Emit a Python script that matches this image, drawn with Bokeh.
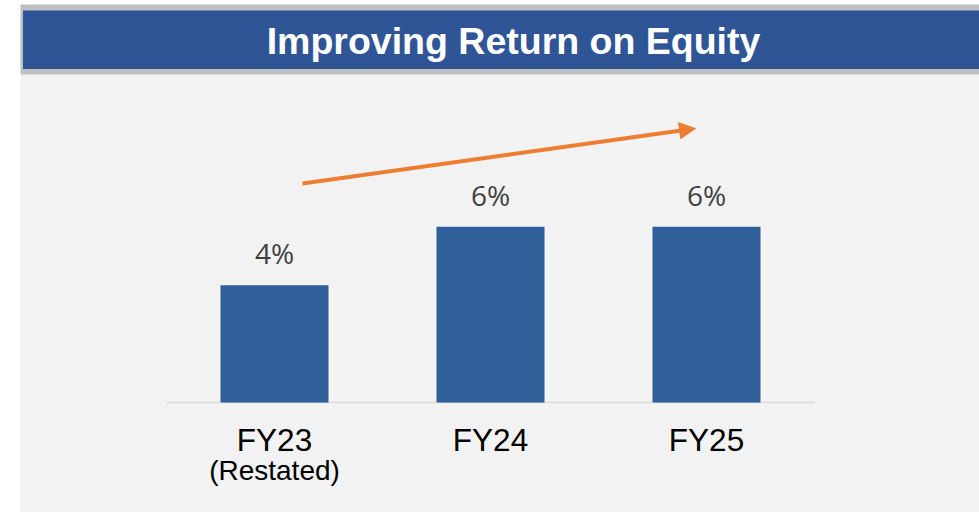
from bokeh.plotting import figure
from bokeh.models import Range1d, BoxAnnotation, Label, Arrow, NormalHead, ColumnDataSource
from bokeh.embed import file_html
from bokeh.resources import INLINE
from bokeh.core.properties import value

# ---- data ----
categories = ["FY23", "FY24", "FY25"]
sublabels = ["(Restated)", "", ""]
roe = [4, 6, 6]
value_labels = ["4%", "6%", "6%"]
title_text = "Improving Return on Equity"

# ---- layout (page pixel geometry) ----
W, H = 979, 512
OX, OY = 0, 0
PX_PER_CAT = 216.0       # px between category centres
X0 = 274.0               # page x of first category centre
PX_PER_PCT = 29.3        # px per percentage point
Y0 = 402.0               # page y of zero line


def dx(px):
    return (px - X0) / PX_PER_CAT


def dy(py):
    return (Y0 - py) / PX_PER_PCT


p = figure(width=W, height=H,
           x_range=Range1d(dx(OX), dx(OX + W)),
           y_range=Range1d(dy(OY + H), dy(OY)),
           x_axis_location=None, y_axis_location=None,
           output_backend="svg", toolbar_location=None, min_border=0)
p.grid.visible = False
p.outline_line_color = None
p.background_fill_color = "white"
p.border_fill_color = "white"

# decorative panels
p.add_layout(BoxAnnotation(left=dx(20), right=dx(990), top=dy(74), bottom=dy(520),
                           fill_color="#f2f2f2", fill_alpha=1, line_color=None, level="underlay"))
p.add_layout(BoxAnnotation(left=dx(20), right=dx(990), top=dy(4), bottom=dy(74),
                           fill_color="#bfbfbf", fill_alpha=1, line_color=None, level="underlay"))
p.add_layout(BoxAnnotation(left=dx(22.5), right=dx(990), top=dy(10), bottom=dy(68.5),
                           fill_color="#2f5597", fill_alpha=1, line_color=None, level="underlay"))

p.add_layout(Label(x=dx(513), y=dy(40), text=title_text, text_color="white",
                   text_font="Liberation Sans", text_font_style="bold",
                   text_font_size="37.5px", text_align="center", text_baseline="alphabetic"))

idx = list(range(len(categories)))
src = ColumnDataSource(dict(x=idx, top=roe, lab=value_labels, cat=categories, sub=sublabels))

# baseline
p.segment(x0=[-0.5], y0=[0], x1=[len(categories) - 0.5], y1=[0],
          line_color="#d9d9d9", line_width=1.6)

# bars
p.vbar(x="x", top="top", bottom=0, width=0.5, source=src,
       fill_color="#2f5f98", line_color=None)

# value labels
p.text(x="x", y="top", text="lab", source=src, y_offset=-32,
       text_align="center", text_baseline="alphabetic",
       text_font=value("Open Sans"), text_font_size="28px", text_color="#404040")

# category labels
p.text(x="x", y=0, text="cat", source=src, y_offset=37,
       text_align="center", text_baseline="alphabetic",
       text_font=value("Liberation Sans"), text_font_size="31.5px", text_color="black")
p.text(x="x", y=0, text="sub", source=src, y_offset=68,
       text_align="center", text_baseline="alphabetic",
       text_font=value("Liberation Sans"), text_font_size="28px", text_color="black")

# trend arrow
p.add_layout(Arrow(end=NormalHead(size=16, fill_color="#ed7d31", line_color="#ed7d31"),
                   x_start=dx(302), y_start=dy(183), x_end=dx(695), y_end=dy(128),
                   line_color="#ed7d31", line_width=4))

open("out.html", "w").write(file_html(p, INLINE))
